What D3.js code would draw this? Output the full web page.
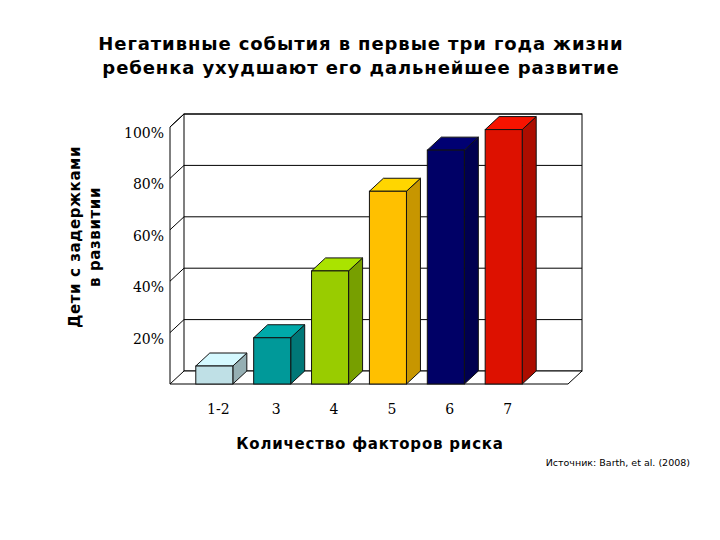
<!DOCTYPE html><html><head><meta charset="utf-8"><script src="https://cdn.jsdelivr.net/npm/d3@7"></script>
<style>body{margin:0;background:#fff}</style></head><body><svg id="c" width="720" height="540"></svg>
<script>
const categories=["1-2","3","4","5","6","7"];
const values=[7,18,44,75,91,99];
const tickValues=[20,40,60,80,100];
const colors=["#bfe0e6","#009999","#99cc00","#ffc000","#000066","#dd1100"];
const svg=d3.select("#c");
const dx=14,dy=-13;
const y=d3.scaleLinear().domain([0,100]).range([384,127]);
const x=d3.scaleBand().domain(categories).range([190,528]).paddingInner(0.36).paddingOuter(0.1);
const g=svg.append("g").attr("stroke","#000").attr("fill","none");
g.append("rect").attr("x",170+dx).attr("y",y(100)+dy).attr("width",398).attr("height",y(0)-y(100));
tickValues.forEach(t=>{g.append("line").attr("x1",170+dx).attr("x2",568+dx).attr("y1",y(t)+dy).attr("y2",y(t)+dy);
 g.append("line").attr("x1",170).attr("x2",170+dx).attr("y1",y(t)).attr("y2",y(t)+dy);});
g.append("line").attr("x1",170).attr("x2",170+dx).attr("y1",y(100)).attr("y2",y(100)+dy);
g.append("line").attr("x1",170).attr("x2",170).attr("y1",y(100)).attr("y2",y(0));
g.append("path").attr("d",`M170,${y(0)}L${170+dx},${y(0)+dy}L${568+dx},${y(0)+dy}L568,${y(0)}Z`).attr("fill","#fff");
const bw=x.bandwidth();
categories.forEach((c,i)=>{
 const x0=x(c),yt=y(values[i]),yb=y(0),col=d3.color(colors[i]);
 const b=svg.append("g").attr("stroke","#111").attr("stroke-width",1);
 b.append("path").attr("d",`M${x0+bw},${yt}L${x0+bw+dx},${yt+dy}L${x0+bw+dx},${yb+dy}L${x0+bw},${yb}Z`).attr("fill",col.darker(0.7));
 b.append("path").attr("d",`M${x0},${yt}L${x0+dx},${yt+dy}L${x0+bw+dx},${yt+dy}L${x0+bw},${yt}Z`).attr("fill",col.brighter(0.3));
 b.append("rect").attr("x",x0).attr("y",yt).attr("width",bw).attr("height",yb-yt).attr("fill",col);
 svg.append("text").attr("x",x0+bw/2+4).attr("y",414).attr("text-anchor","middle").attr("font-family","DejaVu Serif").attr("font-size",14).text(c);
});
tickValues.forEach(t=>svg.append("text").attr("x",164).attr("y",y(t)+dy+24).attr("text-anchor","end").attr("font-family","DejaVu Serif").attr("font-size",14).text(t+"%"));
const T=(t,xx,yy,s,w)=>svg.append("text").attr("x",xx).attr("y",yy).attr("text-anchor","middle").attr("font-family","DejaVu Sans").attr("font-weight",w||"bold").attr("font-size",s).text(t);
T("Негативные события в первые три года жизни",361,50,18).attr("letter-spacing",0.9);
T("ребенка ухудшают его дальнейшее развитие",361,74,18).attr("letter-spacing",0.9);
T("Количество факторов риска",370,449,15).attr("letter-spacing",0.8);
svg.append("text").attr("x",690).attr("y",466).attr("text-anchor","end").attr("font-family","DejaVu Sans").attr("font-size",9.5).text("Источник: Barth, et al. (2008)");
const yt=svg.append("text").attr("transform","translate(80,237) rotate(-90)").attr("text-anchor","middle").attr("font-family","DejaVu Sans").attr("font-weight","bold").attr("font-size",15).attr("letter-spacing",0.6);
yt.append("tspan").attr("x",0).attr("dy",0).text("Дети с задержками");
yt.append("tspan").attr("x",0).attr("dy",20).text("в развитии");
</script></body></html>
